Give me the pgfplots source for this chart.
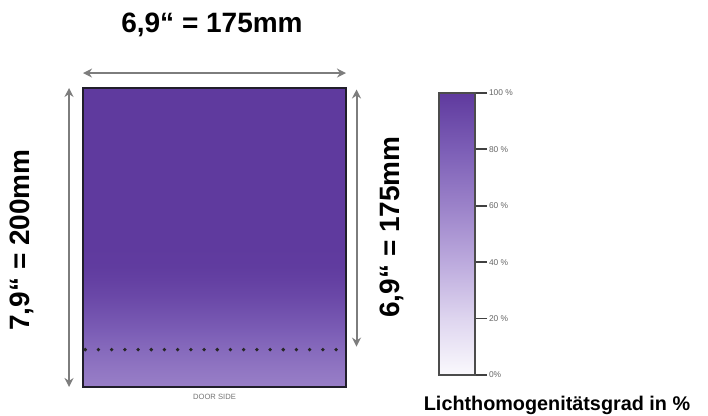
\documentclass[border=0pt]{standalone}
\usepackage{fontspec}
\setmainfont{Liberation Sans}
\usepackage{pgfplots}
\pgfplotsset{compat=1.18}
\usetikzlibrary{arrows.meta}
\definecolor{arrowgray}{RGB}{125,125,125}
\definecolor{frame}{RGB}{32,30,42}
\pgfplotsset{colormap={lila}{rgb255(0)=(250,249,253) rgb255(20)=(222,213,239) rgb255(40)=(188,170,221) rgb255(60)=(155,130,201) rgb255(80)=(124,94,182) rgb255(100)=(95,58,158)}}
\pgfplotstableread{
x y c
0 0 62
175 0 62

0 10 66
175 10 66

0 20 71
175 20 71

0 30 76
175 30 76

0 40 82
175 40 82

0 50 87
175 50 87

0 60 92
175 60 92

0 70 96
175 70 96

0 80 99
175 80 99

0 95 100
175 95 100

0 200 100
175 200 100
}\maindata
\pgfplotstableread{
x y c
0 0 0
1 0 0

0 100 100
1 100 100
}\bardata
\begin{document}
\begin{tikzpicture}
\useasboundingbox (0,0) rectangle (354pt,208pt);
\begin{axis}[at={(41.5pt,14.5pt)}, anchor=south west, scale only axis,
  width=131.5pt, height=149.5pt, xmin=0, xmax=175, ymin=0, ymax=200,
  colormap name=lila, point meta min=0, point meta max=100,
  xtick=\empty, ytick=\empty, axis line style={draw=frame, line width=1.3pt},
  axis on top, clip=false]
\addplot[surf, shader=interp, mesh/cols=2, point meta=explicit] table[x=x, y=y, meta=c] {\maindata};
\addplot[black!85, line width=1.9pt, line cap=round, dash pattern=on 0pt off 6.6pt, mark=none] coordinates {(1.5,25) (174,25)};
\draw[arrowgray, line width=1pt, {Stealth[length=4.5pt,width=4.5pt]}-{Stealth[length=4.5pt,width=4.5pt]}] (axis cs:0,210) -- (axis cs:175,210);
\draw[arrowgray, line width=1pt, {Stealth[length=4.5pt,width=4.5pt]}-{Stealth[length=4.5pt,width=4.5pt]}] (axis cs:-9.3,200) -- (axis cs:-9.3,0);
\draw[arrowgray, line width=1pt, {Stealth[length=4.5pt,width=4.5pt]}-{Stealth[length=4.5pt,width=4.5pt]}] (axis cs:182,199) -- (axis cs:182,27);
\node[font=\fontsize{3.8}{4}\selectfont, text=black!55] at (axis cs:87.5,-6.5) {DOOR SIDE};
\end{axis}
\begin{axis}[at={(219.5pt,20.5pt)}, anchor=south west, scale only axis,
  width=18pt, height=141pt, xmin=0, xmax=1, ymin=0, ymax=100,
  colormap name=lila, point meta min=0, point meta max=100,
  xtick=\empty, ytick={0,20,40,60,80,100},
  yticklabels={0\%,20 \%,40 \%,60 \%,80 \%,100 \%},
  ytick pos=right, yticklabel pos=right, tick align=outside,
  major tick length=6pt,
  tick style={draw=black!75, line width=0.9pt},
  yticklabel style={font=\fontsize{4.2}{5}\selectfont, text=black!60, xshift=-2.5pt},
  axis line style={draw=black!70, line width=1.1pt},
  axis on top]
\addplot[surf, shader=interp, mesh/cols=2, point meta=explicit] table[x=x, y=y, meta=c] {\bardata};
\end{axis}
\node[font=\bfseries\fontsize{14}{16}\selectfont] at (106pt,195.5pt) {6,9“ = 175mm};
\node[font=\bfseries\fontsize{14}{16}\selectfont, rotate=90] at (11pt,88pt) {7,9“ = 200mm};
\node[font=\bfseries\fontsize{14}{16}\selectfont, rotate=90] at (196pt,94.5pt) {6,9“ = 175mm};
\node[font=\bfseries\fontsize{9.9}{11}\selectfont] at (278.5pt,5.5pt) {Lichthomogenitätsgrad in \%};
\end{tikzpicture}
\end{document}
